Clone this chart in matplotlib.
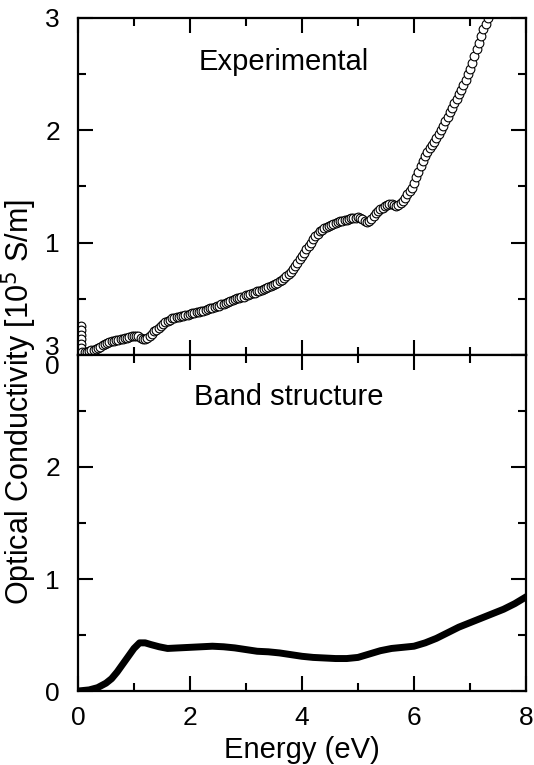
import numpy as np
import matplotlib
matplotlib.use("Agg")
import matplotlib.pyplot as plt

plt.rcParams['font.family'] = ['Liberation Sans', 'DejaVu Sans']

# experimental optical conductivity [10^5 S/m], energy grid 0.08 .. 7.32 eV (step 0.04)
exp_energy = np.round(np.arange(2, 184) * 0.04, 2)
exp_sigma = [
    0.03, 0.03, 0.03, 0.035, 0.04, 0.045, 0.055, 0.065, 0.075, 0.085,
    0.095, 0.105, 0.115, 0.12, 0.125, 0.13, 0.135, 0.14, 0.145, 0.15,
    0.155, 0.16, 0.165, 0.17, 0.172, 0.165, 0.155, 0.145, 0.142, 0.15,
    0.17, 0.19, 0.21, 0.225, 0.24, 0.26, 0.28, 0.295, 0.305, 0.315,
    0.325, 0.33, 0.335, 0.34, 0.345, 0.35, 0.355, 0.36, 0.362, 0.37,
    0.375, 0.38, 0.385, 0.39, 0.395, 0.40, 0.41, 0.415, 0.42, 0.425,
    0.435, 0.44, 0.45, 0.455, 0.46, 0.47, 0.48, 0.49, 0.50, 0.505,
    0.51, 0.515, 0.52, 0.53, 0.535, 0.54, 0.55, 0.555, 0.565, 0.57,
    0.58, 0.59, 0.60, 0.605, 0.61, 0.62, 0.63, 0.64, 0.655, 0.67,
    0.685, 0.70, 0.72, 0.74, 0.765, 0.79, 0.82, 0.85, 0.88, 0.91,
    0.94, 0.97, 1.00, 1.03, 1.06, 1.08, 1.10, 1.115, 1.13, 1.14,
    1.15, 1.16, 1.17, 1.175, 1.18, 1.19, 1.195, 1.20, 1.205, 1.21,
    1.215, 1.22, 1.22, 1.225, 1.22, 1.21, 1.19, 1.18, 1.19, 1.21,
    1.24, 1.26, 1.28, 1.30, 1.31, 1.325, 1.335, 1.34, 1.34, 1.335,
    1.33, 1.335, 1.35, 1.37, 1.40, 1.43, 1.46, 1.49, 1.53, 1.58,
    1.63, 1.68, 1.73, 1.77, 1.81, 1.84, 1.87, 1.90, 1.93, 1.97,
    2.00, 2.04, 2.08, 2.12, 2.16, 2.20, 2.24, 2.28, 2.32, 2.36,
    2.40, 2.45, 2.50, 2.55, 2.60, 2.66, 2.72, 2.78, 2.84, 2.90,
    2.95, 3.00,
]
# lowest-energy points (stacked near 0)
low_energy = [0.05, 0.052, 0.054, 0.056, 0.058, 0.06]
low_sigma = [0.26, 0.22, 0.18, 0.14, 0.10, 0.06]

# band structure calculation
band_energy = [0.0, 0.2, 0.35, 0.5, 0.6, 0.7, 0.8, 0.9, 1.0, 1.1, 1.2, 1.3,
               1.45, 1.6, 1.8, 2.0, 2.2, 2.4, 2.6, 2.8, 3.0, 3.2, 3.4, 3.6,
               3.8, 4.0, 4.2, 4.4, 4.6, 4.8, 5.0, 5.2, 5.4, 5.6, 5.8, 6.0,
               6.2, 6.4, 6.6, 6.8, 7.0, 7.2, 7.4, 7.6, 7.8, 8.0]
band_sigma = [0.0, 0.01, 0.03, 0.07, 0.11, 0.17, 0.24, 0.31, 0.38, 0.43, 0.43, 0.415,
              0.395, 0.38, 0.385, 0.39, 0.395, 0.40, 0.395, 0.385, 0.37, 0.355, 0.35, 0.34,
              0.325, 0.31, 0.30, 0.295, 0.29, 0.29, 0.30, 0.33, 0.36, 0.38, 0.39, 0.40,
              0.43, 0.47, 0.52, 0.57, 0.61, 0.65, 0.69, 0.73, 0.78, 0.84]

y_ticks = [0, 1, 2, 3]
x_ticks = [0, 2, 4, 6, 8]

fig = plt.figure(figsize=(5.34, 7.65), dpi=100)
ax1 = fig.add_axes([0.146, 0.536, 0.839, 0.4405])
ax2 = fig.add_axes([0.146, 0.0967, 0.839, 0.4393])

for ax in (ax1, ax2):
    ax.set_xlim(0, 8)
    ax.set_ylim(0, 3)
    ax.set_xticks(x_ticks)
    ax.set_xticks([1, 3, 5, 7], minor=True)
    ax.set_yticks(y_ticks)
    ax.set_yticks([0.5, 1.5, 2.5], minor=True)
    ax.tick_params(which='both', direction='in', top=True, right=True, width=1.5,
                   labelsize=19)
    ax.tick_params(which='major', length=11)
    ax.tick_params(which='minor', length=6)
    ax.tick_params(axis='y', pad=13)
    ax.tick_params(axis='x', pad=11)
    for s in ax.spines.values():
        s.set_linewidth(1.6)

ax1.plot(list(low_energy) + list(exp_energy), low_sigma + exp_sigma, 'o',
         ms=6.3, mfc='white', mec='black', mew=0.8)
ax1.tick_params(axis='x', labelbottom=False)
ax1.text(0.46, 0.87, 'Experimental', transform=ax1.transAxes, fontsize=21,
         ha='center', va='center')
# the two labels at the panel boundary: "3" (lower panel) above, "0" (upper panel) below
ax1.yaxis.get_major_ticks()[0].label1.set_va('top')
ax2.yaxis.get_major_ticks()[-1].label1.set_va('baseline')

ax2.plot(band_energy, band_sigma, '-', color='black', lw=5)
ax2.text(0.47, 0.875, 'Band structure', transform=ax2.transAxes, fontsize=21,
         ha='center', va='center')
ax2.set_xlabel('Energy (eV)', fontsize=21, labelpad=4)

fig.text(0.036, 0.474, 'Optical Conductivity [10$^5$ S/m]', rotation=90,
         fontsize=22, ha='center', va='center')

fig.savefig('out.png', dpi=100)
